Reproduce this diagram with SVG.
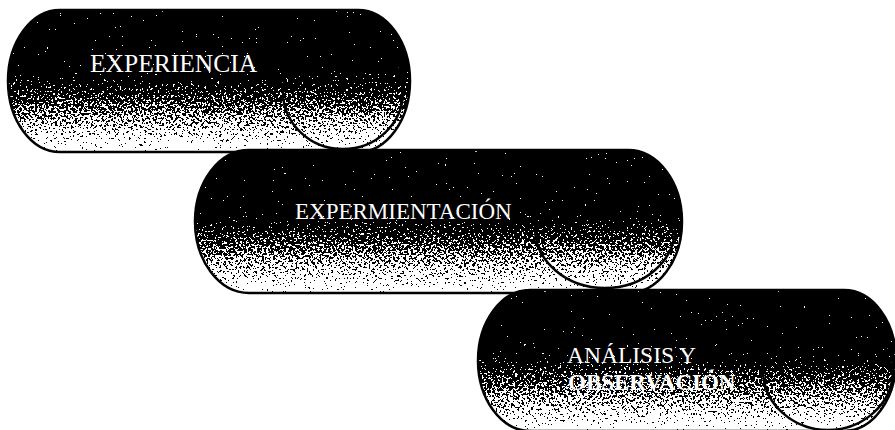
<svg xmlns="http://www.w3.org/2000/svg" xmlns:xlink="http://www.w3.org/1999/xlink" width="895" height="430" viewBox="0 0 895 430">
<style>
.fill{fill:url(#shade);filter:url(#grain)}
.edge{fill:none;stroke:#000;stroke-width:2.5}
.inner{fill:none;stroke:#000;stroke-width:2.5}
.lbl{font-family:"Liberation Serif","Times New Roman",serif;fill:#fff;font-size:24px}
</style>
<defs>
<linearGradient id="shade" x1="0" y1="0" x2="0" y2="1">
<stop offset="0" stop-color="#000"/>
<stop offset="0.42" stop-color="#000"/>
<stop offset="1" stop-color="#f0f0f0"/>
</linearGradient>
<filter id="grain" filterUnits="userSpaceOnUse" x="0" y="0" width="895" height="430" color-interpolation-filters="sRGB">
<feTurbulence type="fractalNoise" baseFrequency="0.45" numOctaves="3" seed="7" result="n"/>
<feColorMatrix in="n" type="matrix" values="1 0 0 0 0  1 0 0 0 0  1 0 0 0 0  0 0 0 0 1" result="g"/>
<feComposite in="SourceGraphic" in2="g" operator="arithmetic" k1="0" k2="1" k3="1.7" k4="-0.85" result="s"/>
<feComponentTransfer in="s" result="t">
<feFuncR type="discrete" tableValues="0 1"/>
<feFuncG type="discrete" tableValues="0 1"/>
<feFuncB type="discrete" tableValues="0 1"/>
</feComponentTransfer>
<feComposite in="t" in2="SourceAlpha" operator="in"/>
</filter>
<rect id="s1" x="8" y="10" width="402" height="142" rx="52" ry="71"/>
<rect id="s2" x="195" y="150" width="487" height="143" rx="54" ry="71.5"/>
<rect id="s3" x="478" y="290" width="418" height="141" rx="52" ry="70.5"/>
<clipPath id="c1"><use xlink:href="#s1"/></clipPath>
<clipPath id="c2"><use xlink:href="#s2"/></clipPath>
<clipPath id="c3"><use xlink:href="#s3"/></clipPath>
</defs>
<g id="connectors"/>
<g id="experiencia">
<use xlink:href="#s1" class="fill"/>
<ellipse class="inner" cx="343" cy="92" rx="60" ry="57" clip-path="url(#c1)"/>
<use xlink:href="#s1" class="edge"/>
<text class="lbl" x="90" y="72" style="font-size:25.5px">EXPERIENCIA</text>
</g>
<g id="experimentacion">
<use xlink:href="#s2" class="fill"/>
<ellipse class="inner" cx="605" cy="228" rx="70" ry="60" clip-path="url(#c2)"/>
<use xlink:href="#s2" class="edge"/>
<text class="lbl" x="295" y="219" style="font-size:23px">EXPERMIENTACIÓN</text>
</g>
<g id="analisis">
<use xlink:href="#s3" class="fill"/>
<ellipse class="inner" cx="828" cy="370" rx="65" ry="60" clip-path="url(#c3)"/>
<use xlink:href="#s3" class="edge"/>
<text class="lbl" x="567" y="363" style="font-size:23.5px">ANÁLISIS Y</text>
<text class="lbl" x="568" y="390" style="font-size:23px;font-weight:bold">OBSERVACIÓN</text>
</g>
</svg>
